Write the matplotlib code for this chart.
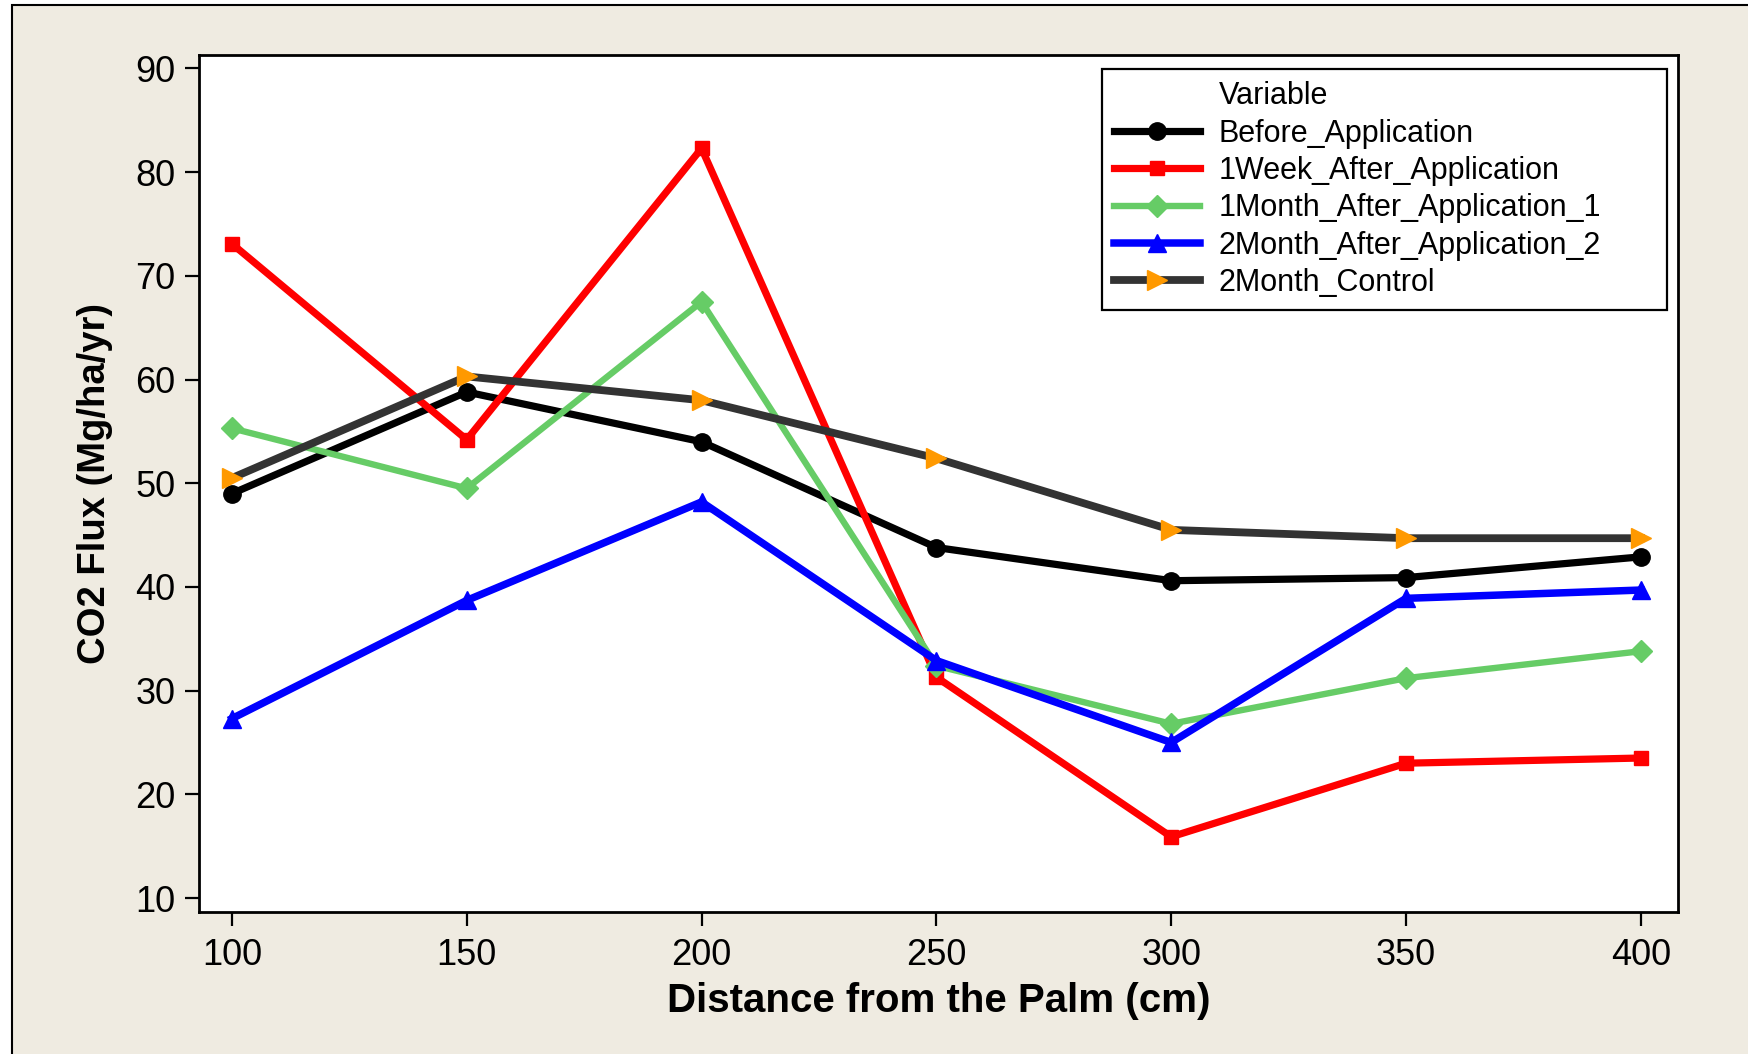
import matplotlib
matplotlib.use("Agg")
import matplotlib.pyplot as plt
from matplotlib.lines import Line2D
from matplotlib.patches import Rectangle

plt.rcParams['font.family'] = ['Liberation Sans', 'DejaVu Sans']

# Distance from the palm (cm)
distance = [100, 150, 200, 250, 300, 350, 400]

# CO2 flux (Mg/ha/yr) for each sampling time
before_application = [49.0, 58.8, 54.0, 43.8, 40.6, 40.9, 42.9]
week1_after = [73.1, 54.2, 82.3, 31.3, 15.9, 23.0, 23.5]
month1_after_1 = [55.3, 49.5, 67.5, 32.4, 26.8, 31.2, 33.8]
month2_after_2 = [27.3, 38.7, 48.2, 32.9, 25.0, 38.9, 39.7]
month2_control = [50.5, 60.3, 58.0, 52.4, 45.5, 44.7, 44.7]

series_names = ["Before_Application", "1Week_After_Application",
                "1Month_After_Application_1", "2Month_After_Application_2",
                "2Month_Control"]

x_ticks = [100, 150, 200, 250, 300, 350, 400]
y_ticks = [10, 20, 30, 40, 50, 60, 70, 80, 90]

W, H = 1749, 1054
fig = plt.figure(figsize=(W / 100, H / 100), dpi=100, facecolor="white")

# beige panel with a thin black border
fig.patches.append(Rectangle((12 / W, -0.05), 1.2, 1.05 - 5 / H,
                             transform=fig.transFigure, facecolor="#EFEBE1",
                             edgecolor="black", linewidth=1.5, zorder=-10))

ax = fig.add_axes([199 / W, 1 - 912 / H, (1678 - 199) / W, (912 - 55) / H])
ax.set_facecolor("white")

styles = [
    dict(color="black", marker="o", markersize=12.5, markerfacecolor="black",
         markeredgecolor="black", linewidth=5.2),
    dict(color="#FF0000", marker="s", markersize=10, markerfacecolor="#FF0000",
         markeredgecolor="#FF0000", linewidth=5.2),
    dict(color="#66CC66", marker="D", markersize=11, markerfacecolor="#66CC66",
         markeredgecolor="#66CC66", linewidth=4.6),
    dict(color="#0000FF", marker="^", markersize=13, markerfacecolor="#0000FF",
         markeredgecolor="#0000FF", linewidth=5.4),
    dict(color="#333333", marker=">", markersize=14, markerfacecolor="#FF9900",
         markeredgecolor="#FF9900", linewidth=5.6),
]
all_series = [before_application, week1_after, month1_after_1,
              month2_after_2, month2_control]

handles = [Line2D([], [], color="none", label="Variable")]
for name, vals, st in zip(series_names, all_series, styles):
    ln, = ax.plot(distance, vals, label=name, solid_joinstyle="miter", **st)
    handles.append(ln)

ax.set_xlim(93.0, 407.9)
ax.set_ylim(8.65, 91.3)
ax.set_xticks(x_ticks)
ax.set_yticks(y_ticks)
ax.tick_params(axis="both", direction="out", length=10, width=1.6,
               labelsize=26, colors="black")
ax.tick_params(axis="x", pad=9)
ax.tick_params(axis="y", pad=7)
for s in ax.spines.values():
    s.set_linewidth(2.0)
    s.set_color("black")

ax.set_xlabel("Distance from the Palm (cm)", fontsize=29, fontweight="bold",
              labelpad=6)
ax.set_ylabel("CO2 Flux (Mg/ha/yr)", fontsize=27.5, fontweight="bold",
              labelpad=16)

# legend box spans a fixed region in the upper right
leg_x0, leg_x1 = 1102 / W, 1667 / W
leg_top = 1 - 69 / H
leg = ax.legend(handles=handles, loc="upper left", mode="expand",
                bbox_to_anchor=(leg_x0, leg_top - 0.3, leg_x1 - leg_x0, 0.3),
                bbox_transform=fig.transFigure, borderaxespad=0,
                fontsize=22, handlelength=2.8, handletextpad=0.62,
                borderpad=0.4, labelspacing=0.24, fancybox=False,
                framealpha=1, edgecolor="black", frameon=True)
leg.get_frame().set_linewidth(1.6)

fig.savefig("out.png", dpi=100, facecolor=fig.get_facecolor())
